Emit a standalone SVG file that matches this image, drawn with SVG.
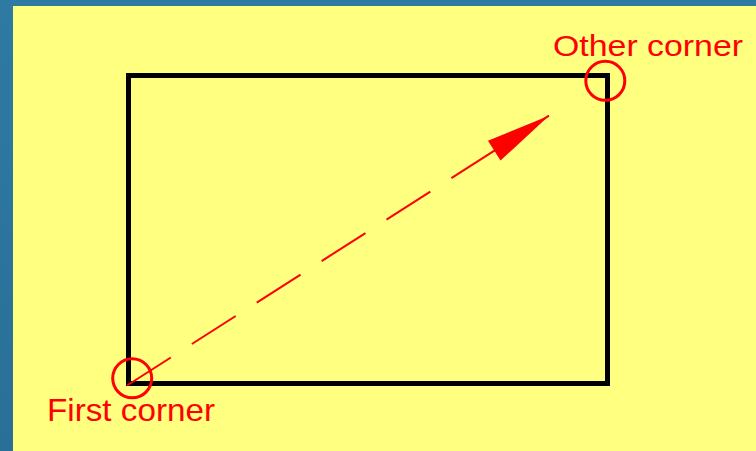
<svg xmlns="http://www.w3.org/2000/svg" width="756" height="451" viewBox="0 0 756 451">
  <defs>
    <linearGradient id="bg" x1="0" y1="0" x2="0" y2="1">
      <stop offset="0" stop-color="#2e7aa3"/>
      <stop offset="1" stop-color="#2a6f98"/>
    </linearGradient>
    <marker id="arrow" viewBox="-66 -12 67 24" markerWidth="67" markerHeight="24" refX="0" refY="0" markerUnits="userSpaceOnUse" orient="auto" overflow="visible">
      <path d="M0,0 L-65,-11.7 L-65,11.7 Z" fill="#ff0000"/>
    </marker>
  </defs>
  <style>
    .lbl { font-family: "Liberation Sans", Arial, sans-serif; fill: #ff0000; }
    .mark { fill: none; stroke: #ff0000; stroke-width: 3; }
  </style>
  <rect x="0" y="0" width="756" height="451" fill="url(#bg)"/>
  <rect x="13" y="6" width="743" height="445" fill="#ffff80"/>

  <g id="rectangle">
    <rect x="128.5" y="75.5" width="479" height="308" fill="none" stroke="#000000" stroke-width="5"/>
  </g>

  <g id="connectors">
    <line x1="127" y1="385.5" x2="549" y2="115.7" stroke="#ff0000" stroke-width="2" stroke-dasharray="52 25" marker-end="url(#arrow)"/>
  </g>

  <g id="first-corner">
    <circle class="mark" cx="132.2" cy="378.3" r="19.5"/>
    <text class="lbl" x="47" y="421" font-size="32" textLength="168" lengthAdjust="spacingAndGlyphs">First corner</text>
  </g>

  <g id="other-corner">
    <circle class="mark" cx="605.3" cy="80.8" r="19.5"/>
    <text class="lbl" x="553" y="56" font-size="30" textLength="190" lengthAdjust="spacingAndGlyphs">Other corner</text>
  </g>
</svg>
